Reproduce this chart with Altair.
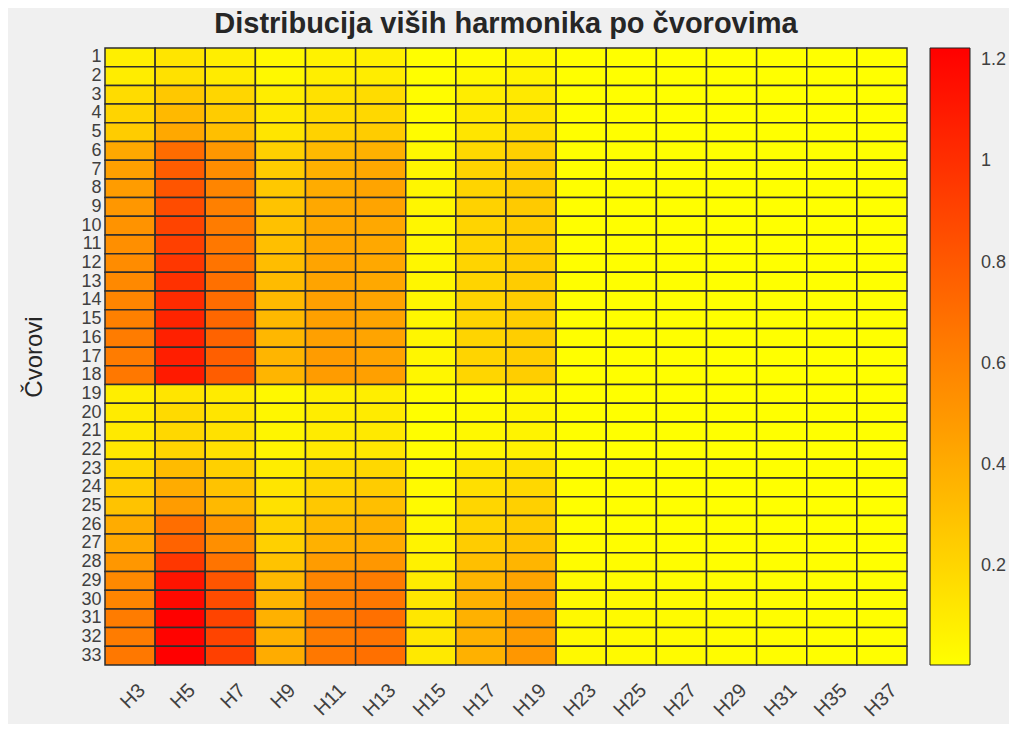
import altair as alt
import pandas as pd

nodes = [str(i) for i in range(1, 34)]
harmonics = ["H3", "H5", "H7", "H9", "H11", "H13", "H15", "H17", "H19",
             "H23", "H25", "H27", "H29", "H31", "H35", "H37"]

H3 = [0.08, 0.09, 0.17, 0.21, 0.25, 0.42, 0.46, 0.48, 0.50, 0.52, 0.54, 0.555, 0.57, 0.59, 0.61, 0.63, 0.63, 0.65,
      0.086, 0.10, 0.11, 0.12, 0.19, 0.25, 0.29, 0.40, 0.42, 0.50, 0.57, 0.59, 0.63, 0.63, 0.65]
H5 = [0.13, 0.15, 0.27, 0.34, 0.42, 0.71, 0.78, 0.82, 0.86, 0.90, 0.92, 0.96, 0.99, 1.02, 1.05, 1.07, 1.08, 1.10,
      0.13, 0.18, 0.19, 0.21, 0.33, 0.40, 0.48, 0.70, 0.75, 0.96, 1.13, 1.18, 1.22, 1.21, 1.224]
H7 = [0.086, 0.10, 0.20, 0.25, 0.31, 0.50, 0.55, 0.59, 0.61, 0.63, 0.65, 0.67, 0.69, 0.71, 0.73, 0.75, 0.77, 0.78,
      0.10, 0.13, 0.15, 0.15, 0.23, 0.29, 0.34, 0.50, 0.54, 0.67, 0.82, 0.86, 0.90, 0.90, 0.92]
H9 = [0.04, 0.04, 0.09, 0.11, 0.13, 0.23, 0.25, 0.27, 0.29, 0.30, 0.31, 0.32, 0.33, 0.34, 0.34, 0.35, 0.36, 0.36,
      0.04, 0.05, 0.055, 0.06, 0.09, 0.13, 0.15, 0.22, 0.23, 0.29, 0.34, 0.36, 0.38, 0.38, 0.40]
H11 = [0.067, 0.086, 0.15, 0.17, 0.22, 0.34, 0.38, 0.40, 0.42, 0.42, 0.43, 0.44, 0.44, 0.46, 0.46, 0.46, 0.48, 0.48,
       0.077, 0.09, 0.10, 0.11, 0.17, 0.21, 0.27, 0.34, 0.38, 0.48, 0.59, 0.61, 0.63, 0.63, 0.65]
H13 = [0.077, 0.09, 0.17, 0.19, 0.25, 0.38, 0.42, 0.44, 0.44, 0.42, 0.42, 0.42, 0.42, 0.44, 0.44, 0.44, 0.44, 0.46,
       0.086, 0.10, 0.11, 0.12, 0.19, 0.25, 0.31, 0.38, 0.40, 0.50, 0.63, 0.65, 0.69, 0.67, 0.69]
H15 = [0.01, 0.01, 0.02, 0.02, 0.02, 0.04, 0.05, 0.05, 0.05, 0.05, 0.05, 0.05, 0.05, 0.05, 0.05, 0.05, 0.05, 0.05,
       0.02, 0.01, 0.015, 0.015, 0.02, 0.03, 0.03, 0.05, 0.06, 0.07, 0.10, 0.12, 0.12, 0.12, 0.11]
H17 = [0.02, 0.04, 0.09, 0.11, 0.13, 0.19, 0.21, 0.21, 0.22, 0.21, 0.21, 0.21, 0.21, 0.21, 0.21, 0.21, 0.21, 0.20,
       0.02, 0.03, 0.04, 0.05, 0.13, 0.16, 0.20, 0.21, 0.25, 0.31, 0.36, 0.38, 0.38, 0.38, 0.38]
H19 = [0.04, 0.06, 0.11, 0.13, 0.16, 0.23, 0.25, 0.25, 0.26, 0.25, 0.25, 0.25, 0.25, 0.25, 0.24, 0.24, 0.24, 0.24,
       0.04, 0.05, 0.06, 0.07, 0.15, 0.19, 0.23, 0.25, 0.29, 0.36, 0.44, 0.46, 0.48, 0.48, 0.50]
H23 = [0.008, 0.008, 0.01, 0.01, 0.01, 0.012, 0.012, 0.012, 0.012, 0.012, 0.012, 0.012, 0.012, 0.012, 0.012, 0.012, 0.012, 0.012,
       0.008, 0.008, 0.008, 0.008, 0.01, 0.01, 0.012, 0.015, 0.018, 0.02, 0.03, 0.03, 0.035, 0.035, 0.035]
H25 = [0.007, 0.007, 0.008, 0.008, 0.008, 0.01, 0.01, 0.01, 0.01, 0.01, 0.01, 0.01, 0.01, 0.01, 0.01, 0.01, 0.01, 0.01,
       0.007, 0.007, 0.007, 0.007, 0.008, 0.008, 0.01, 0.012, 0.015, 0.018, 0.025, 0.028, 0.03, 0.03, 0.03]
H27 = [0.006, 0.006, 0.007, 0.007, 0.007, 0.008, 0.008, 0.008, 0.008, 0.008, 0.008, 0.008, 0.008, 0.008, 0.008, 0.008, 0.008, 0.008,
       0.006, 0.006, 0.006, 0.006, 0.007, 0.007, 0.008, 0.01, 0.012, 0.015, 0.02, 0.022, 0.025, 0.025, 0.025]
H29 = [0.006, 0.006, 0.006, 0.006, 0.006, 0.007, 0.007, 0.007, 0.007, 0.007, 0.007, 0.007, 0.007, 0.007, 0.007, 0.007, 0.007, 0.007,
       0.006, 0.006, 0.006, 0.006, 0.006, 0.006, 0.007, 0.008, 0.01, 0.012, 0.015, 0.018, 0.02, 0.02, 0.02]
H31 = [0.005, 0.005, 0.006, 0.006, 0.006, 0.006, 0.006, 0.006, 0.006, 0.006, 0.006, 0.006, 0.006, 0.006, 0.006, 0.006, 0.006, 0.006,
       0.005, 0.005, 0.005, 0.005, 0.006, 0.006, 0.006, 0.007, 0.008, 0.01, 0.012, 0.014, 0.015, 0.015, 0.015]
H35 = [0.005, 0.005, 0.005, 0.005, 0.005, 0.006, 0.006, 0.006, 0.006, 0.006, 0.006, 0.006, 0.006, 0.006, 0.006, 0.006, 0.006, 0.006,
       0.005, 0.005, 0.005, 0.005, 0.005, 0.005, 0.006, 0.006, 0.007, 0.008, 0.01, 0.011, 0.012, 0.012, 0.012]
H37 = [0.005, 0.005, 0.005, 0.005, 0.005, 0.005, 0.005, 0.005, 0.005, 0.005, 0.005, 0.005, 0.005, 0.005, 0.005, 0.005, 0.005, 0.005,
       0.005, 0.005, 0.005, 0.005, 0.005, 0.005, 0.005, 0.006, 0.006, 0.007, 0.008, 0.009, 0.01, 0.01, 0.01]

columns = {"H3": H3, "H5": H5, "H7": H7, "H9": H9, "H11": H11, "H13": H13, "H15": H15,
           "H17": H17, "H19": H19, "H23": H23, "H25": H25, "H27": H27, "H29": H29,
           "H31": H31, "H35": H35, "H37": H37}

records = []
for h in harmonics:
    for n, v in zip(nodes, columns[h]):
        records.append({"Cvor": n, "Harmonik": h, "Vrijednost": v})
df = pd.DataFrame(records)

FONT = "Liberation Sans"
vmin = min(min(c) for c in columns.values())
vmax = max(max(c) for c in columns.values())

chart = alt.Chart(df).mark_rect(stroke="#2e2e2e", strokeWidth=1.5).encode(
    x=alt.X("Harmonik:O", sort=harmonics,
            scale=alt.Scale(paddingInner=0, paddingOuter=0),
            axis=alt.Axis(title=None, labelAngle=-45, labelAlign="right", labelBaseline="middle",
                          labelFontSize=20, labelFont=FONT, labelColor="#404040",
                          labelPadding=22, labelOffset=12, ticks=False, domain=False)),
    y=alt.Y("Cvor:O", sort=nodes,
            scale=alt.Scale(paddingInner=0, paddingOuter=0),
            axis=alt.Axis(title="Čvorovi", labelFontSize=18, labelFont=FONT, labelColor="#404040",
                          labelPadding=4, ticks=False, domain=False, labelOverlap=False,
                          titleFont=FONT, titleFontSize=24, titleFontWeight="normal",
                          titleColor="#262626", titlePadding=34)),
    color=alt.Color("Vrijednost:Q",
                    scale=alt.Scale(domain=[vmin, vmax], range=["#ffff00", "#ff0000"], interpolate="rgb"),
                    legend=alt.Legend(title=None, orient="right", offset=23, direction="vertical",
                                      gradientLength=617, gradientThickness=40,
                                      gradientStrokeColor="#222222", gradientStrokeWidth=1,
                                      values=[0.2, 0.4, 0.6, 0.8, 1.0, 1.2], format="~g",
                                      labelFontSize=18, labelFont=FONT, labelColor="#404040",
                                      labelOffset=11)),
).properties(
    width=802, height=617,
    title=alt.TitleParams("Distribucija viših harmonika po čvorovima", font=FONT, fontSize=29,
                          fontWeight="bold", color="#262626", anchor="middle", offset=8),
    background="#f0f0f0",
    autosize=alt.AutoSizeParams(type="none"),
    padding={"left": 97, "top": 40, "right": 102, "bottom": 59},
).configure_view(stroke=None)

chart.save("out.html", embed_options={"renderer": "svg", "actions": False})
